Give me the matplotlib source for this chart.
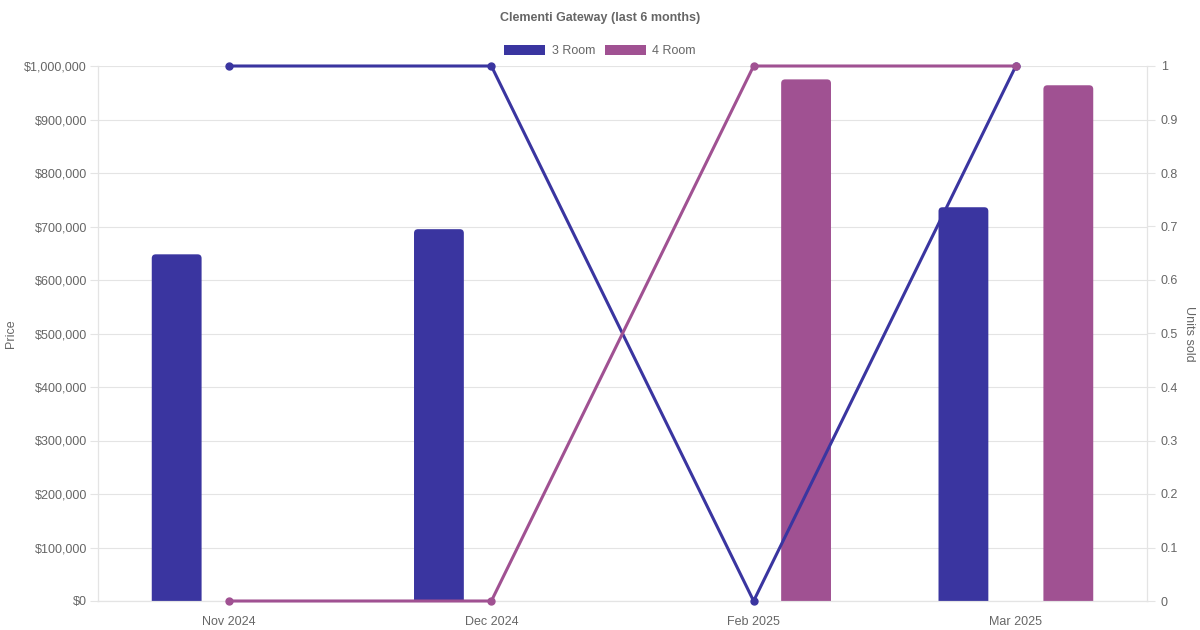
import matplotlib.pyplot as plt
from matplotlib.patches import FancyBboxPatch, Patch
from matplotlib.ticker import FuncFormatter, MultipleLocator
import numpy as np

plt.rcParams["font.family"] = ["Liberation Sans", "DejaVu Sans"]

months = ["Nov 2024", "Dec 2024", "Feb 2025", "Mar 2025"]
series = ["3 Room", "4 Room"]
price_3room = [648000, 695000, np.nan, 736000]
price_4room = [np.nan, np.nan, 975000, 964000]
units_3room = [1, 1, 0, 1]
units_4room = [0, 0, 1, 1]
colors = ["#3A35A0", "#A05192"]

grey = "#666666"
grid = "#E4E4E4"

fig = plt.figure(figsize=(12, 6.3), dpi=100)
ax = fig.add_axes([98 / 1200, 1 - 601 / 630, 1049 / 1200, 535 / 630])
ax2 = ax.twinx()

x = np.arange(len(months))
bw = 0.19
off = 0.2
rx = 4 / 262
ry = 4 / 535 * 1e6
for vals, shift, c in [(price_3room, -off, colors[0]), (price_4room, off, colors[1])]:
    for xi, v in zip(x, vals):
        if np.isnan(v):
            continue
        p = FancyBboxPatch((xi + shift - bw / 2 + rx, -2 * ry), bw - 2 * rx, v + ry,
                           boxstyle="round,pad=%f,rounding_size=%f" % (rx, rx),
                           mutation_aspect=ry / rx, facecolor=c, edgecolor="none",
                           zorder=2)
        ax.add_patch(p)

ax.set_xlim(-0.5, len(months) - 0.5)
ax.set_ylim(0, 1000000)
ax.yaxis.set_major_locator(MultipleLocator(100000))
ax.yaxis.set_major_formatter(FuncFormatter(lambda v, p: "${:,.0f}".format(v)))
ax.set_xticks(x)
ax.set_xticklabels(months)
ax.grid(axis="y", color=grid, linewidth=0.8, zorder=0)
ax.set_axisbelow(True)
ax.tick_params(axis="y", colors=grid, labelcolor=grey, labelsize=9, length=6, pad=2)
ax.tick_params(axis="x", length=0, labelcolor=grey, labelsize=9, pad=11)
ax.set_ylabel("Price", color=grey, fontsize=9, va="center")
ax.yaxis.set_label_coords(-87 / 1049, 0.5)

ax2.plot(x, units_3room, color=colors[0], lw=2.2, marker="o", ms=5, zorder=3)
ax2.plot(x, units_4room, color=colors[1], lw=2.2, marker="o", ms=5, zorder=3)
ax2.set_ylim(0, 1)
ax2.yaxis.set_major_locator(MultipleLocator(0.1))
ax2.yaxis.set_major_formatter(FuncFormatter(lambda v, p: "%g" % round(v, 1)))
ax2.tick_params(axis="y", colors=grid, labelcolor=grey, labelsize=9, length=6, pad=4)
ax2.set_ylabel("Units sold", color=grey, fontsize=9, rotation=270, va="center")
ax2.yaxis.set_label_coords(1 + 42 / 1049, 0.5)

for a in (ax, ax2):
    for s in a.spines.values():
        s.set_color(grid)
    a.spines["top"].set_visible(False)
    for line in a.get_lines():
        line.set_clip_on(False)

fig.text(0.5, 1 - 18 / 630, "Clementi Gateway (last 6 months)", ha="center", va="center",
         fontsize=9, fontweight="bold", color=grey)
handles = [Patch(facecolor=c, edgecolor="none") for c in colors]
fig.legend(handles, series, loc="center", bbox_to_anchor=(0.5, 1 - 51 / 630), ncol=2,
           frameon=False, fontsize=9, labelcolor=grey, handlelength=3.3,
           handleheight=0.9, handletextpad=0.5, columnspacing=0.8)

fig.savefig("out.png", dpi=100)
